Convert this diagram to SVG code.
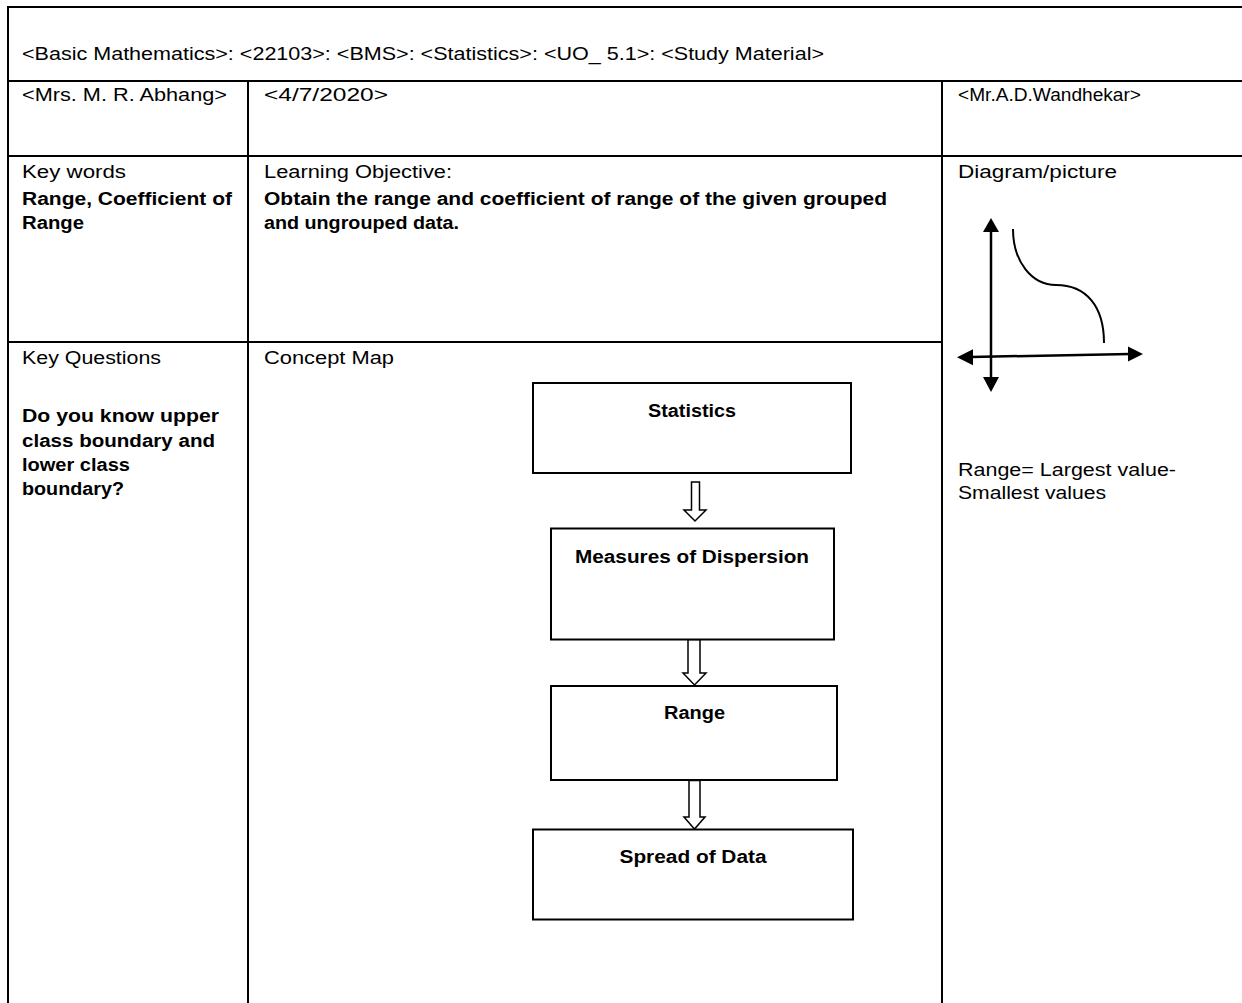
<svg xmlns="http://www.w3.org/2000/svg" width="1242" height="1003" viewBox="0 0 1242 1003">
<style>
text{font-family:"Liberation Sans",Arial,sans-serif;font-size:17.5px;fill:#000}
.b{font-weight:bold}
.grid{stroke:#000;stroke-width:2;fill:none}
.box{fill:#fff;stroke:#000;stroke-width:2}
.blk{fill:#fff;stroke:#000;stroke-width:1.5;stroke-linejoin:miter}
.ax{stroke:#000;stroke-width:2.5;fill:none}
</style>
<rect width="1242" height="1003" fill="#fff"/>
<g id="table" class="grid">
<line x1="8" y1="7" x2="1242" y2="7"/>
<line x1="8" y1="81" x2="1242" y2="81"/>
<line x1="8" y1="156" x2="1242" y2="156"/>
<line x1="8" y1="342" x2="942" y2="342"/>
<line x1="8" y1="6" x2="8" y2="1003"/>
<line x1="248" y1="81" x2="248" y2="1003"/>
<line x1="942" y1="81" x2="942" y2="1003"/>
</g>
<g id="header">
<text x="22" y="59.5" textLength="802" lengthAdjust="spacingAndGlyphs">&lt;Basic Mathematics&gt;: &lt;22103&gt;: &lt;BMS&gt;: &lt;Statistics&gt;: &lt;UO_ 5.1&gt;: &lt;Study Material&gt;</text>
<text x="22" y="101" textLength="205" lengthAdjust="spacingAndGlyphs">&lt;Mrs. M. R. Abhang&gt;</text>
<text x="264" y="101" textLength="124" lengthAdjust="spacingAndGlyphs">&lt;4/7/2020&gt;</text>
<text x="958" y="101" textLength="183" lengthAdjust="spacingAndGlyphs">&lt;Mr.A.D.Wandhekar&gt;</text>
</g>
<g id="keywords">
<text x="22" y="178" textLength="104" lengthAdjust="spacingAndGlyphs">Key words</text>
<text x="22" y="205" class="b" textLength="210" lengthAdjust="spacingAndGlyphs">Range, Coefficient of</text>
<text x="22" y="229" class="b" textLength="62" lengthAdjust="spacingAndGlyphs">Range</text>
</g>
<g id="objective">
<text x="264" y="178" textLength="188" lengthAdjust="spacingAndGlyphs">Learning Objective:</text>
<text x="264" y="205" class="b" textLength="623" lengthAdjust="spacingAndGlyphs">Obtain the range and coefficient of range of the given grouped</text>
<text x="264" y="229" class="b" textLength="195" lengthAdjust="spacingAndGlyphs">and ungrouped data.</text>
</g>
<g id="picture">
<text x="958" y="178" textLength="159" lengthAdjust="spacingAndGlyphs">Diagram/picture</text>
<line class="ax" x1="991" y1="230" x2="991" y2="379"/>
<polygon points="991,218 999,232 983,232" fill="#000"/>
<polygon points="991,392 999,377 983,377" fill="#000"/>
<line class="ax" x1="971" y1="357" x2="1130" y2="354"/>
<polygon points="957,357.3 973,349.3 973,365.3" fill="#000"/>
<polygon points="1143,354 1128,346.5 1128,361.5" fill="#000"/>
<path d="M1013,229 C1013,262 1032,285 1056,285 C1086,285 1104,306 1104,343" fill="none" stroke="#000" stroke-width="2"/>
<text x="958" y="476" textLength="218" lengthAdjust="spacingAndGlyphs">Range= Largest value-</text>
<text x="958" y="499" textLength="148" lengthAdjust="spacingAndGlyphs">Smallest values</text>
</g>
<g id="questions">
<text x="22" y="364" textLength="139" lengthAdjust="spacingAndGlyphs">Key Questions</text>
<text x="22" y="422" class="b" textLength="197" lengthAdjust="spacingAndGlyphs">Do you know upper</text>
<text x="22" y="447" class="b" textLength="193" lengthAdjust="spacingAndGlyphs">class boundary and</text>
<text x="22" y="471" class="b" textLength="108" lengthAdjust="spacingAndGlyphs">lower class</text>
<text x="22" y="495" class="b" textLength="102" lengthAdjust="spacingAndGlyphs">boundary?</text>
</g>
<text x="264" y="364" textLength="130" lengthAdjust="spacingAndGlyphs">Concept Map</text>
<g id="connectors">
<polygon class="blk" points="691.5,482 699.5,482 699.5,510 706,510 695,521 684,510 691.5,510"/>
<polygon class="blk" points="688,639.5 700,639.5 700,673 706,673 694.5,685 683,673 688,673"/>
<polygon class="blk" points="689,780.5 700,780.5 700,817 705,817 694.5,829 684,817 689,817"/>
</g>
<g id="node-statistics">
<rect class="box" x="533" y="383" width="318" height="90"/>
<text x="692" y="417" class="b" text-anchor="middle" textLength="88" lengthAdjust="spacingAndGlyphs">Statistics</text>
</g>
<g id="node-dispersion">
<rect class="box" x="551" y="528.5" width="283" height="111"/>
<text x="692" y="563" class="b" text-anchor="middle" textLength="234" lengthAdjust="spacingAndGlyphs">Measures of Dispersion</text>
</g>
<g id="node-range">
<rect class="box" x="551" y="686" width="286" height="94"/>
<text x="694.5" y="719" class="b" text-anchor="middle" textLength="61" lengthAdjust="spacingAndGlyphs">Range</text>
</g>
<g id="node-spread">
<rect class="box" x="533" y="829.5" width="320" height="90"/>
<text x="693" y="863" class="b" text-anchor="middle" textLength="147" lengthAdjust="spacingAndGlyphs">Spread of Data</text>
</g>
</svg>
